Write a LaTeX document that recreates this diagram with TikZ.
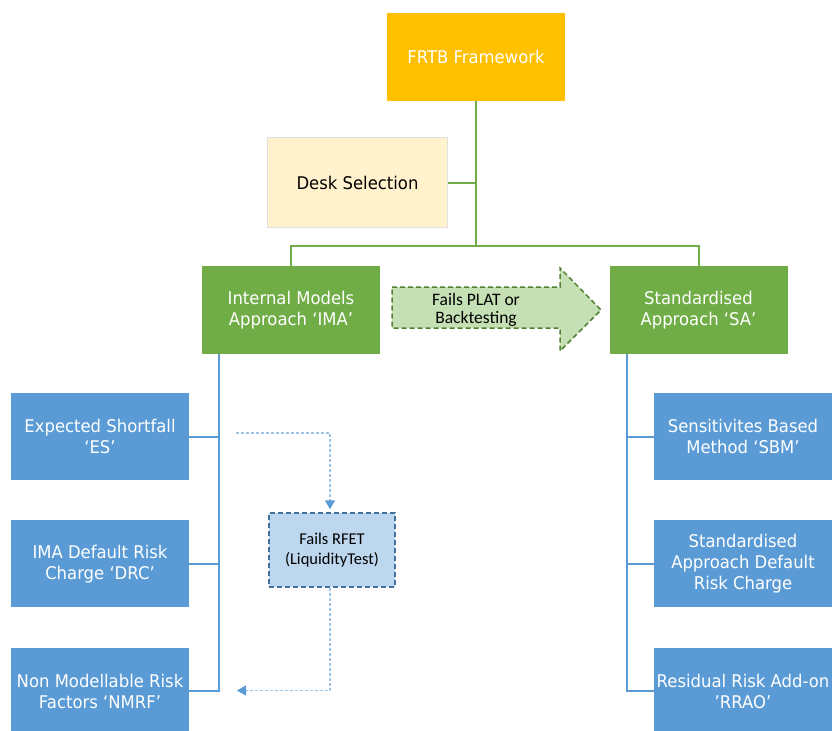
\documentclass[tikz,border=0pt]{standalone}
\usepackage{fontspec}
\setmainfont{DejaVu Sans}[FakeStretch=0.94]
\newfontfamily\calib{Carlito}
\usetikzlibrary{arrows.meta,calc,positioning}

\definecolor{frtbgold}{HTML}{FFC000}
\definecolor{deskfill}{HTML}{FFF2CC}
\definecolor{deskline}{HTML}{E0E0E0}
\definecolor{apgreen}{HTML}{70AD47}
\definecolor{riskblue}{HTML}{5B9BD5}
\definecolor{platfill}{HTML}{C5E0B4}
\definecolor{platline}{HTML}{548235}
\definecolor{rfetfill}{HTML}{BDD7EE}
\definecolor{rfetline}{HTML}{41719C}
\definecolor{dotblue}{HTML}{9DC3E6}

\begin{document}
\begin{tikzpicture}[x=1pt,y=-1pt,
  every node/.style={align=center,inner sep=0,font=\fontsize{17.5}{21}\selectfont},
  topbox/.style={fill=frtbgold,text=white,minimum width=178pt,minimum height=88pt},
  deskbox/.style={fill=deskfill,draw=deskline,line width=1.5pt,minimum width=180pt,minimum height=90pt},
  approach/.style={fill=apgreen,text=white,minimum width=178pt,minimum height=88pt},
  riskbox/.style={fill=riskblue,text=white,minimum width=178pt,minimum height=87pt},
  testbox/.style={fill=rfetfill,draw=rfetline,line width=1.5pt,dash pattern=on 5pt off 3pt,minimum width=126pt,minimum height=74pt,font=\calib\fontsize{16.5}{20}\selectfont},
  greenline/.style={draw=apgreen,line width=2pt},
  blueline/.style={draw=riskblue,line width=2pt},
  dotline/.style={draw=dotblue,line width=1.5pt,dash pattern=on 3pt off 2pt,-{Triangle[length=9pt,width=10pt,color=riskblue,fill=riskblue]}}]

\clip (0,0) rectangle (833,731);

% Nodes
\node[topbox] (frtb) at (476,57) {FRTB Framework};
\node[deskbox] (desk) at (357.5,182.5) {\color{black}Desk Selection};
\node[approach] (ima) at (291,310) {Internal Models\\Approach ‘IMA’};
\node[approach] (sa) at (698.5,310) {Standardised\\Approach ‘SA’};

\node[riskbox] (es) at (100,436.5) {Expected Shortfall\\‘ES’};
\node[riskbox,below=40pt of es] (drc) {IMA Default Risk\\Charge ‘DRC’};
\node[riskbox,below=40pt of drc] (nmrf) {Non Modellable Risk\\Factors ‘NMRF’};

\node[riskbox] (sbm) at (743,436.5) {Sensitivites Based\\Method ‘SBM’};
\node[riskbox,below=40pt of sbm] (sadrc) {Standardised\\Approach Default\\Risk Charge};
\node[riskbox,below=40pt of sadrc] (rrao) {Residual Risk Add-on\\’RRAO’};

\node[testbox] (rfet) at (332,550) {Fails RFET\\(LiquidityTest)};

% fails PLAT arrow
\path[fill=platfill,draw=platline,line width=1.5pt,dash pattern=on 5pt off 3pt]
  (392,287) -- (560,287) -- (560,268) -- (601,310) -- (560,351) -- (560,328) -- (392,328) -- cycle;
\node[font=\calib\fontsize{17.5}{18.5}\selectfont] (plat) at (476,310) {Fails PLAT or\\Backtesting};

\coordinate (split) at (476,246);
\coordinate (imatrunk) at ($(ima.south west)+(17,0)$);
\coordinate (satrunk) at ($(sa.south west)+(18,0)$);
\coordinate (rfetin) at (236,433);
\coordinate (rfetout) at (237,690.5);

%arcs
\path[greenline] (frtb.south) -- (split);
\path[greenline] (desk.east) -- (desk.east -| split);
\path[greenline] (ima.north) |- (split) -| (sa.north);

\path[blueline] (imatrunk) |- (nmrf.east);
\path[blueline] (es.east) -- (es.east -| imatrunk);
\path[blueline] (drc.east) -- (drc.east -| imatrunk);

\path[blueline] (satrunk) |- (rrao.west);
\path[blueline] (sbm.west) -- (sbm.west -| satrunk);
\path[blueline] (sadrc.west) -- (sadrc.west -| satrunk);

\path[dotline] (rfetin) -| ($(rfet.north)+(-2,-3)$);
\path[dotline] ($(rfet.south)+(-2,0)$) |- (rfetout);

\end{tikzpicture}
\end{document}
